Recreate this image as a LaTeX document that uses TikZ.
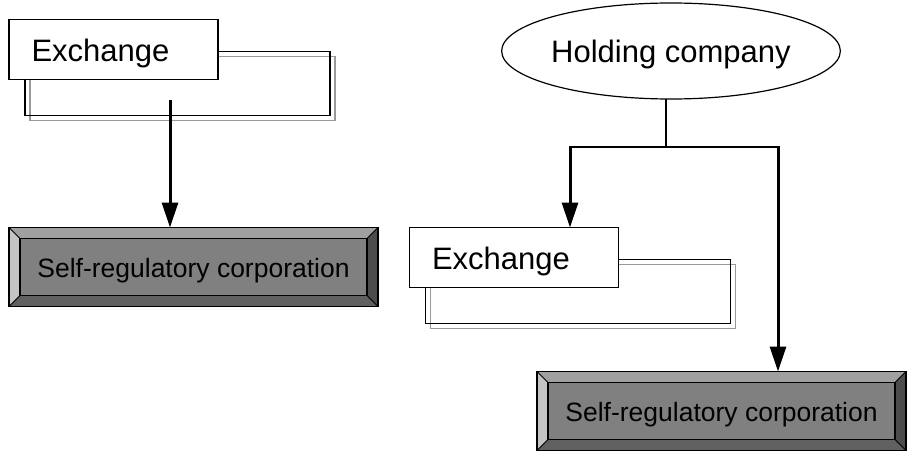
\documentclass[tikz,border=0pt]{standalone}
\usepackage{fontspec}
\setmainfont{Liberation Sans}
\usetikzlibrary{positioning,shapes.geometric,arrows.meta,backgrounds}

\definecolor{facegray}{HTML}{808080}
\definecolor{topgray}{HTML}{A0A0A0}
\definecolor{leftgray}{HTML}{C4C4C4}
\definecolor{botgray}{HTML}{606060}
\definecolor{rightgray}{HTML}{4C4C4C}
\definecolor{shadowgray}{HTML}{999999}

% double frame behind an exchange box
\newcommand{\stackbox}[1]{%
	\begin{scope}[on background layer]
		\draw[shadowgray, line width=1.2pt] ([shift={(21pt,-37pt)}]#1.north west) rectangle ++(305pt,-64pt);
		\draw[line width=1.2pt] ([shift={(16pt,-32pt)}]#1.north west) rectangle ++(305pt,-64pt);
	\end{scope}}

% bevelled border of a corporation box
\newcommand{\bevel}[1]{%
	\fill[topgray] (#1.north west) -- (#1.north east) -- ([shift={(-11pt,-11pt)}]#1.north east) -- ([shift={(11pt,-11pt)}]#1.north west) -- cycle;
	\fill[leftgray] (#1.north west) -- ([shift={(11pt,-11pt)}]#1.north west) -- ([shift={(11pt,11pt)}]#1.south west) -- (#1.south west) -- cycle;
	\fill[botgray] (#1.south west) -- ([shift={(11pt,11pt)}]#1.south west) -- ([shift={(-11pt,11pt)}]#1.south east) -- (#1.south east) -- cycle;
	\fill[rightgray] (#1.south east) -- ([shift={(-11pt,11pt)}]#1.south east) -- ([shift={(-11pt,-11pt)}]#1.north east) -- (#1.north east) -- cycle;
	\draw[line width=0.8pt] (#1.north west) -- ++(11pt,-11pt) (#1.north east) -- ++(-11pt,-11pt)
		(#1.south west) -- ++(11pt,11pt) (#1.south east) -- ++(-11pt,11pt);
	\draw[line width=1.2pt] ([shift={(11pt,-11pt)}]#1.north west) rectangle ([shift={(-11pt,11pt)}]#1.south east);
	\draw[line width=1.4pt] (#1.north west) rectangle (#1.south east);}

\begin{document}
\begin{tikzpicture}[x=1pt,y=-1pt,
	big/.style={font=\fontsize{31}{36}\selectfont, text height=24pt, text depth=0pt},
	exch/.style={draw, fill=white, line width=1.2pt, big, align=left, text width=164pt, inner xsep=22.5pt, inner ysep=0pt, minimum height=60pt, outer sep=0pt},
	corp/.style={draw, fill=facegray, line width=1.2pt, minimum width=369pt, minimum height=79pt, inner sep=0pt, outer sep=0pt, font=\fontsize{26.5}{32}\selectfont, text height=20pt, text depth=0pt},
	hold/.style={ellipse, draw, line width=1.2pt, minimum width=298pt, minimum height=96pt, inner sep=0pt, outer sep=0pt, big},
	flow/.style={line width=3pt, -{Triangle[length=25pt,width=16pt]}}]
	\useasboundingbox (0,0) rectangle (910,452);

	% left: exchange over its own corporation
	\node[exch] (exch_l) at (113.5,49.5) {Exchange};
	\stackbox{exch_l}
	\node[corp] (src_l) at (193.5,267) {Self-regulatory corporation};
	\bevel{src_l}
	\coordinate (tail_l) at (170,100);
	\draw[flow] (tail_l) -- (tail_l |- src_l.north);

	% right: holding company over both
	\node[hold] (hold) at (671,51) {Holding company};
	\node[exch] (exch_r) at (514,257.5) {Exchange};
	\stackbox{exch_r}
	\node[corp] (src_r) at (721.5,411) {Self-regulatory corporation};
	\bevel{src_r}
	\coordinate (split) at (666,147);
	\coordinate (fork_l) at (570,147);
	\coordinate (fork_r) at (778,147);
	\draw[line width=1.5pt] (split |- hold.south) -- (split);
	\draw[line width=1.5pt] (fork_l) -- (fork_r);
	\draw[flow] ([yshift=0.75pt]fork_l) -- (fork_l |- exch_r.north);
	\draw[flow] ([yshift=0.75pt]fork_r) -- (fork_r |- src_r.north);
\end{tikzpicture}
\end{document}
